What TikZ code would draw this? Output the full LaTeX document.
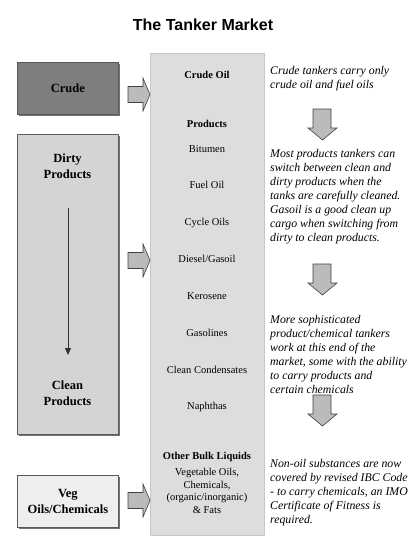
\documentclass[tikz,border=0pt]{standalone}
\usepackage{fontspec}
\setmainfont{Liberation Serif}
\newfontfamily\headfont{Liberation Sans}
\usetikzlibrary{arrows.meta,shadows}
\definecolor{crudefill}{HTML}{7E7E7E}
\definecolor{dirtyfill}{HTML}{D4D4D4}
\definecolor{vegfill}{HTML}{EEEEEE}
\definecolor{columnfill}{HTML}{DDDDDD}
\definecolor{arrowfill}{HTML}{BBBBBB}
\begin{document}
\begin{tikzpicture}[x=1pt,y=-1pt,
    sidebox/.style={draw=black!65, line width=0.8pt, anchor=north west, minimum width=101pt,
        inner sep=0pt, align=center, font=\fontsize{12.5}{15.5}\selectfont\bfseries,
        drop shadow={shadow xshift=1.2pt, shadow yshift=-1.2pt, fill=black!55, opacity=1}},
    sidelabel/.style={align=center, inner sep=0pt, font=\fontsize{12.5}{15.5}\selectfont\bfseries},
    item/.style={anchor=base, inner sep=0pt, font=\fontsize{10.5}{12.5}\selectfont},
    note/.style={anchor=base west, align=left, inner sep=0pt, font=\fontsize{11.8}{14}\selectfont\itshape},
    blockarrow/.style={draw=black!75, fill=arrowfill, line width=0.6pt}]
    \useasboundingbox (0,0) rectangle (411,546);
    \node[anchor=base, font=\headfont\bfseries\fontsize{16}{18}\selectfont] (title) at (203,30.5) {The Tanker Market};

    % left hand boxes
    \node[sidebox, fill=crudefill, minimum height=52pt] (crude) at (17,62) {Crude};
    \node[sidebox, fill=dirtyfill, minimum height=300pt] (dirty) at (17,134) {};
    \node[sidebox, fill=vegfill, minimum height=52pt] (veg) at (17,475) {Veg\\Oils/Chemicals};
    \node[sidelabel] (dirtylabel) at (67.5,166) {Dirty\\Products};
    \node[sidelabel] (cleanlabel) at (67.5,393) {Clean\\Products};
    \coordinate (flowtop) at (68,208);
    \coordinate (flowbot) at (68,355);
    \draw[black!80, line width=0.8pt, -{Triangle[length=7pt,width=6pt]}] (flowtop) -- (flowbot);

    % middle column
    \node[draw=black!22, fill=columnfill, anchor=north west, minimum width=114pt,
        minimum height=482pt, inner sep=0pt] (column) at (150,53) {};
    \node[item, font=\fontsize{10.5}{12.5}\selectfont\bfseries] (crudeoil) at (207,78) {Crude Oil};
    \node[item, font=\fontsize{10.5}{12.5}\selectfont\bfseries] (products) at (207,127) {Products};
    \node[item] (bitumen) at (207,152) {Bitumen};
    \node[item] (fueloil) at (207,188) {Fuel Oil};
    \node[item] (cycleoils) at (207,225) {Cycle Oils};
    \node[item] (diesel) at (207,262) {Diesel/Gasoil};
    \node[item] (kerosene) at (207,299) {Kerosene};
    \node[item] (gasolines) at (207,336) {Gasolines};
    \node[item] (condensates) at (207,373) {Clean Condensates};
    \node[item] (naphthas) at (207,409) {Naphthas};
    \node[item, font=\fontsize{10.5}{12.5}\selectfont\bfseries] (otherbulk) at (207,459) {Other Bulk Liquids};
    \node[item, align=center] (vegoils) at (207,513) {Vegetable Oils,\\Chemicals,\\(organic/inorganic)\\\& Fats};

    % block arrows
    \foreach \y in {78,244,484}
        \draw[blockarrow, shift={(128,\y)}] (0,8.5) -- (15,8.5) -- (15,0) -- (22,16.5)
            -- (15,33) -- (15,24.5) -- (0,24.5) -- cycle;
    \foreach \y in {109,264,395}
        \draw[blockarrow, shift={(308,\y)}] (5,0) -- (23,0) -- (23,19) -- (29,19)
            -- (14.5,31) -- (0,19) -- (5,19) -- cycle;

    % notes (base is the last line)
    \node[note] (crudenote) at (270,88) {Crude tankers carry only\\crude oil and fuel oils};
    \node[note] (productnote) at (270,241) {Most products tankers can\\switch between clean and\\dirty products when the\\tanks are carefully cleaned.\\Gasoil is a good clean up\\cargo when switching from\\dirty to clean products.};
    \node[note] (chemnote) at (270,393) {More sophisticated\\product/chemical tankers\\work at this end of the\\market, some with the ability\\to carry products and\\certain chemicals};
    \node[note] (bulknote) at (270,523) {Non-oil substances are now\\covered by revised IBC Code\\- to carry chemicals, an IMO\\Certificate of Fitness is\\required.};
\end{tikzpicture}
\end{document}
